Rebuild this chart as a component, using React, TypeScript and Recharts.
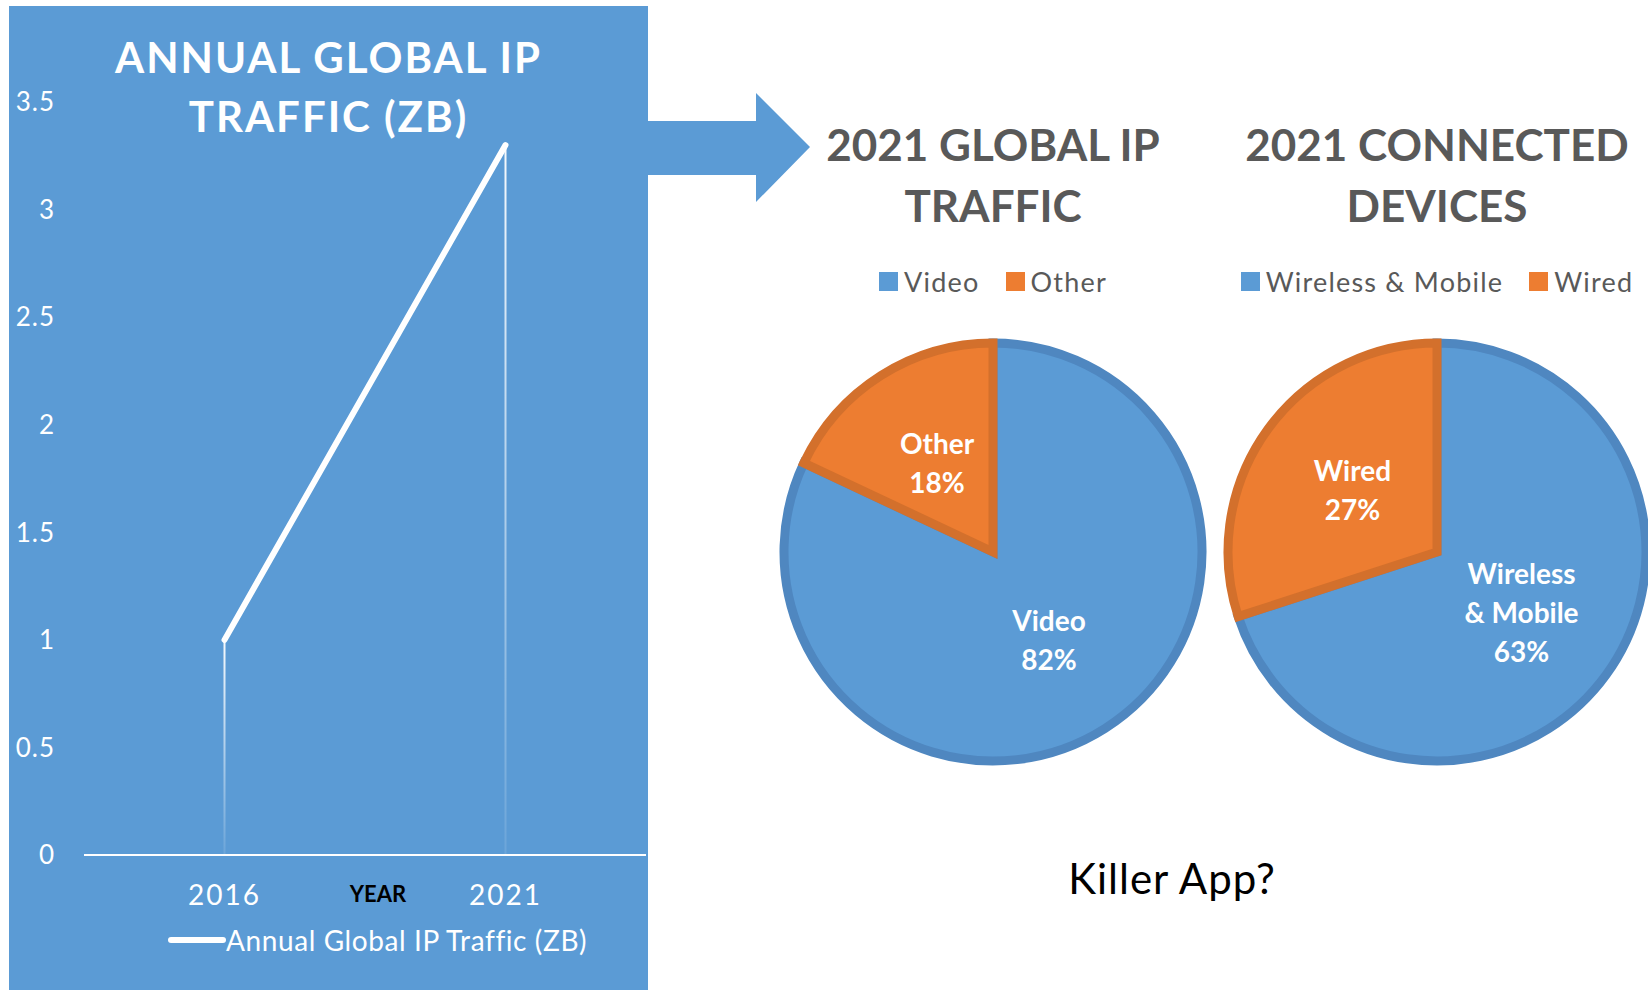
import React from 'react';
import {
  LineChart,
  Line,
  XAxis,
  YAxis,
  ReferenceLine,
  Legend,
  PieChart,
  Pie,
  Cell,
} from 'recharts';

// left chart: annual traffic
const years = ['2016', '2021'];
const trafficZB = [1.0, 3.3];
const yTicks = [0, 0.5, 1, 1.5, 2, 2.5, 3, 3.5];
const lineName = 'Annual Global IP Traffic (ZB)';

// right charts: 2021 shares
const trafficNames = ['Video', 'Other'];
const trafficShares = [82, 18];
const deviceNames = ['Wireless & Mobile', 'Wired'];
const deviceShares = [63, 27];

const BLUE = '#5b9bd5';
const ORANGE = '#ed7d31';
const sliceFills = [BLUE, ORANGE];
const sliceStrokes = ['#4f87c0', '#d3702c'];
const FONT = 'Lato, "Open Sans", sans-serif';
const RADIAN = Math.PI / 180;

const lineData = years.map((year, i) => ({ year, traffic: trafficZB[i] }));
const trafficData = trafficNames.map((name, i) => ({ name, value: trafficShares[i], fill: sliceFills[i] }));
const deviceData = deviceNames.map((name, i) => ({ name, value: deviceShares[i], fill: sliceFills[i] }));
const legendOrder = [...trafficNames, ...deviceNames];

// greedy word wrap for slice labels
const wrapWords = (text: string, max: number) => {
  const out: string[] = [];
  let cur = '';
  text.split(' ').forEach((w) => {
    if (cur && (cur + ' ' + w).length > max) {
      out.push(cur);
      cur = w;
    } else {
      cur = cur ? cur + ' ' + w : w;
    }
  });
  if (cur) out.push(cur);
  return out;
};

const renderSliceLabel = (p: any) => {
  const r = p.outerRadius * 0.5;
  const x = p.cx + r * Math.cos(-p.midAngle * RADIAN);
  const y = p.cy + r * Math.sin(-p.midAngle * RADIAN);
  const lines = [...wrapWords(String(p.name), 9), `${p.value}%`];
  const lh = 39;
  return (
    <text x={x} y={y} fill="#fff" textAnchor="middle" fontSize={28} fontWeight={700} fontFamily={FONT}>
      {lines.map((l, i) => (
        <tspan key={i} x={x} y={y + (i - (lines.length - 1) / 2) * lh} dy="0.35em">
          {l}
        </tspan>
      ))}
    </text>
  );
};

// fading drop line from the point down to the axis
const DropLine = (p: any) => {
  const top = Math.min(p.y1, p.y2);
  const bottom = Math.max(p.y1, p.y2);
  const id = `fade-${Math.round(p.x1)}`;
  return (
    <g>
      <defs>
        <linearGradient id={id} gradientUnits="userSpaceOnUse" x1={p.x1} y1={top} x2={p.x1} y2={bottom}>
          <stop offset="0" stopColor="#fff" stopOpacity={0.95} />
          <stop offset="1" stopColor="#fff" stopOpacity={0.1} />
        </linearGradient>
      </defs>
      <line x1={p.x1} y1={p.y1} x2={p.x2} y2={p.y2} stroke={`url(#${id})`} strokeWidth={2} />
    </g>
  );
};

const renderLineLegend = (props: any) => (
  <div style={{ display: 'flex', alignItems: 'center', height: 34, fontFamily: FONT, whiteSpace: 'nowrap' }}>
    {(props.payload || []).map((entry: any) => (
      <div key={entry.value} style={{ display: 'flex', alignItems: 'center' }}>
        <svg width={58} height={10}>
          <line x1={3} y1={5} x2={55} y2={5} stroke="#fff" strokeWidth={6} strokeLinecap="round" />
        </svg>
        <span style={{ color: '#fff', fontSize: 28, letterSpacing: 0.6 }}>{entry.value}</span>
      </div>
    ))}
  </div>
);

const renderPieLegend = (props: any) => {
  const items = [...(props.payload || [])].sort(
    (a: any, b: any) => legendOrder.indexOf(a.value) - legendOrder.indexOf(b.value)
  );
  return (
    <div
      style={{
        display: 'flex',
        justifyContent: 'center',
        alignItems: 'center',
        height: 30,
        fontFamily: FONT,
        whiteSpace: 'nowrap',
      }}
    >
      {items.map((entry: any, i: number) => (
        <div key={entry.value} style={{ display: 'flex', alignItems: 'center', marginLeft: i ? 26 : 0 }}>
          <span style={{ width: 19, height: 19, background: entry.color || sliceFills[i], marginRight: 6 }} />
          <span style={{ color: '#595959', fontSize: 27, letterSpacing: 1.2 }}>{entry.value}</span>
        </div>
      ))}
    </div>
  );
};

const pieTitleStyle: React.CSSProperties = {
  position: 'absolute',
  top: 114,
  width: 500,
  textAlign: 'center',
  fontSize: 44,
  lineHeight: '61px',
  fontWeight: 700,
  color: '#595959',
  fontFamily: FONT,
};

function SharePie({ data, left }: { data: any[]; left: number }) {
  return (
    <div style={{ position: 'absolute', left, top: 240 }}>
      <PieChart width={444} height={560} margin={{ top: 0, right: 0, bottom: 0, left: 0 }}>
        <Legend
          verticalAlign="middle"
          align="center"
          layout="horizontal"
          wrapperStyle={{ top: 26, left: 0, width: 444, height: 30 }}
          content={renderPieLegend}
        />
        <Pie
          data={data}
          dataKey="value"
          nameKey="name"
          cx={222}
          cy={312}
          outerRadius={209}
          startAngle={90}
          endAngle={-270}
          label={renderSliceLabel}
          labelLine={false}
          isAnimationActive={false}
        >
          {data.map((entry, i) => (
            <Cell key={entry.name} fill={sliceFills[i]} stroke={sliceStrokes[i]} strokeWidth={9} />
          ))}
        </Pie>
      </PieChart>
    </div>
  );
}

export default function App() {
  return (
    <div
      style={{
        position: 'relative',
        width: 1648,
        height: 990,
        overflow: 'hidden',
        background: '#fff',
        fontFamily: FONT,
      }}
    >
      <style>{'body{margin:0}'}</style>

      {/* arrow between panels */}
      <svg style={{ position: 'absolute', left: 640, top: 85 }} width={180} height={125}>
        <polygon points="0,36 116,36 116,8 170,62 116,117 116,90 0,90" fill={BLUE} />
      </svg>

      {/* left panel */}
      <div style={{ position: 'absolute', left: 9, top: 6, width: 639, height: 984, background: BLUE }}>
        <div
          style={{
            position: 'absolute',
            top: 22,
            left: 0,
            width: 639,
            textAlign: 'center',
            color: '#fff',
            fontSize: 42,
            lineHeight: '59px',
            fontWeight: 700,
            letterSpacing: 2,
            zIndex: 1,
          }}
        >
          ANNUAL GLOBAL IP
          <br />
          TRAFFIC (ZB)
        </div>
        <LineChart width={639} height={984} data={lineData} margin={{ top: 96, right: 2, left: 0, bottom: 0 }}>
          <XAxis
            dataKey="year"
            scale="band"
            interval={0}
            height={135}
            axisLine={{ stroke: '#fff', strokeWidth: 2 }}
            tickLine={false}
            tickSize={0}
            tickMargin={30}
            tick={{ fill: '#fff', fontSize: 28, letterSpacing: 2, fontFamily: FONT }}
            label={{
              value: 'YEAR',
              position: 'insideTop',
              offset: 31,
              dx: 13,
              fill: '#000',
              fontSize: 22,
              fontWeight: 700,
              fontFamily: FONT,
            }}
          />
          <YAxis
            width={75}
            domain={[0, 3.5]}
            ticks={yTicks}
            axisLine={false}
            tickLine={false}
            tickSize={0}
            tickMargin={29}
            tick={{ fill: '#fff', fontSize: 26, letterSpacing: 1, fontFamily: FONT }}
          />
          {years.map((y, i) => (
            <ReferenceLine
              key={y}
              segment={[
                { x: y, y: 0 },
                { x: y, y: trafficZB[i] },
              ]}
              shape={DropLine}
            />
          ))}
          <Legend
            verticalAlign="middle"
            align="center"
            layout="horizontal"
            wrapperStyle={{ top: 917, left: 159, width: 470, height: 34 }}
            content={renderLineLegend}
          />
          <Line
            type="linear"
            dataKey="traffic"
            name={lineName}
            stroke="#fff"
            strokeWidth={6}
            strokeLinecap="round"
            dot={false}
            isAnimationActive={false}
          />
        </LineChart>
      </div>

      {/* right titles */}
      <div style={{ ...pieTitleStyle, left: 743 }}>
        2021 GLOBAL IP
        <br />
        TRAFFIC
      </div>
      <div style={{ ...pieTitleStyle, left: 1187 }}>
        2021 CONNECTED
        <br />
        DEVICES
      </div>

      <SharePie data={trafficData} left={771} />
      <SharePie data={deviceData} left={1215} />

      <div
        style={{
          position: 'absolute',
          left: 972,
          top: 853,
          width: 400,
          textAlign: 'center',
          fontSize: 42,
          letterSpacing: 1,
          lineHeight: '50px',
          color: '#000',
        }}
      >
        Killer App?
      </div>
    </div>
  );
}
